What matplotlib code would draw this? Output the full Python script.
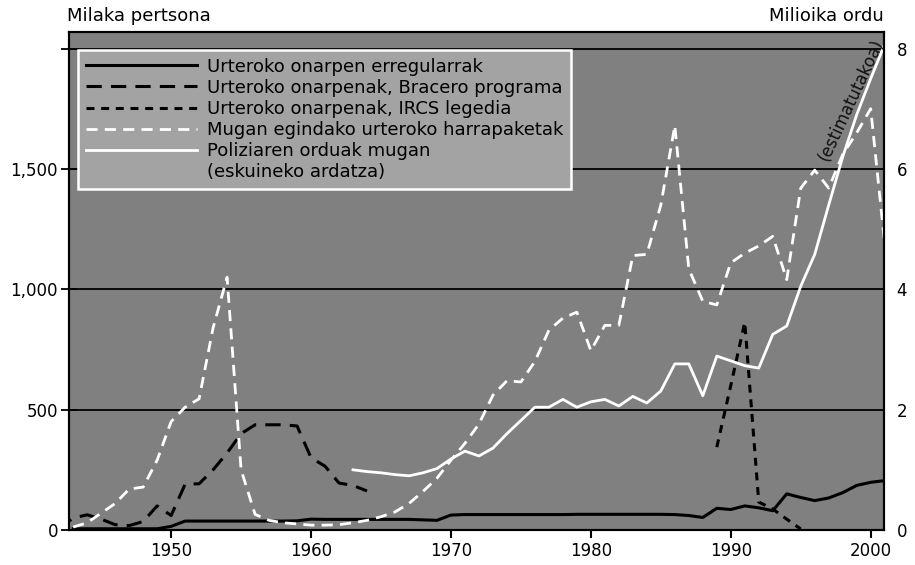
import matplotlib
matplotlib.use("Agg")
import matplotlib.pyplot as plt
from matplotlib.lines import Line2D

plt.rcParams["font.family"] = ["DejaVu Sans"]

# Urteroko onarpen erregularrak (milaka), 1943-2001
regular_years = list(range(1943, 2002))
regular_vals = [5, 5, 5, 5, 5, 5, 5,
                15,
                37, 37, 37, 37, 37, 37, 37, 37,
                38, 45,
                44, 44, 44, 44, 44, 44, 44,
                42, 40,
                62,
                64, 64, 64, 64, 64, 64, 64, 64,
                65, 65, 65, 65, 65, 65, 65,
                64, 60, 52, 90, 85, 100, 92, 80, 150, 135, 122, 133,
                155, 185, 198, 205]

# Bracero programa (milaka), 1942-1964
bracero_years = list(range(1942, 1965))
bracero_vals = [5, 50, 63, 45, 22, 18, 35, 100, 60, 190,
                192, 250, 320, 400, 437, 437, 437, 432, 300, 265,
                195, 185, 162]

# IRCS legedia (milaka)
ircs_years = [1989, 1990, 1991, 1992, 1993, 1994, 1995]
ircs_vals = [344, 600, 863, 116, 87, 45, 4]

# Mugako harrapaketak (milaka), 1943-2001
appr_years = list(range(1943, 2002))
appr_vals = [12, 30, 70, 110, 170, 178, 290, 450, 510, 545,
             840, 1050, 250, 65, 40, 30, 25, 20, 20, 22,
             30, 40, 55, 75, 110, 160, 215, 290, 360, 440,
             560, 620, 615, 700, 830, 880, 905, 745, 850, 850,
             1140, 1145, 1350, 1680, 1085, 950, 935, 1110, 1150, 1180,
             1220, 1040, 1420, 1495, 1420, 1560, 1650, 1750, 1190]

# Poliziaren orduak mugan (milioika), 1963-2001
police_years = list(range(1963, 2002))
police_vals = [1.0, 0.97, 0.95, 0.92, 0.90, 0.95, 1.02, 1.18, 1.31, 1.23,
               1.36, 1.6, 1.82,
               2.04, 2.04, 2.17, 2.04, 2.13, 2.17, 2.06, 2.22, 2.11, 2.31,
               2.76, 2.76, 2.23, 2.89, 2.81, 2.73, 2.69, 3.25, 3.39, 4.05,
               4.58, 5.4, 6.2, 6.9, 7.5, 8.07]

left_ticks = [0, 500, 1000, 1500, 2000]
left_ticklabels = ["0", "500", "1,000", "1,500", ""]
right_ticks = [0, 2, 4, 6, 8]
x_ticks = [1950, 1960, 1970, 1980, 1990, 2000]

fig = plt.figure(figsize=(9.15, 5.65), dpi=100)
ax = fig.add_axes([0.0754, 0.062, 0.8907, 0.881])
ax.set_facecolor("#808080")

ax.plot(regular_years, regular_vals, color="black", lw=2.2,
        solid_joinstyle="round")
ax.plot(bracero_years, bracero_vals, color="black", lw=2.2, dashes=(5, 3))
ax.plot(ircs_years, ircs_vals, color="black", lw=2.2, dashes=(2.6, 2.2))
ax.plot(appr_years, appr_vals, color="white", lw=2.0, dashes=(4, 2.6))

ax.set_xlim(1942.7, 2000.95)
ax.set_ylim(0, 2068)
ax.set_yticks(left_ticks)
ax.set_yticklabels(left_ticklabels)
ax.set_xticks(x_ticks)
ax.grid(axis="y", color="black", lw=1.3)
ax.set_axisbelow(True)
ax.tick_params(axis="y", direction="inout", length=12, width=1.3,
               labelsize=12, pad=2)
ax.tick_params(axis="x", direction="out", length=6, width=1.5,
               labelsize=12, pad=3)
for sp in ax.spines.values():
    sp.set_linewidth(1.5)

ax2 = ax.twinx()
ax2.plot(police_years, police_vals, color="white", lw=2.0)
ax2.set_ylim(0, 2068 / 250)
ax2.set_yticks(right_ticks)
ax2.tick_params(axis="y", length=0, labelsize=12, pad=9)
for sp in ax2.spines.values():
    sp.set_linewidth(1.5)

ax2.text(1998.6, 7.15, "(estimatutakoa)", rotation=65, fontsize=12,
         ha="center", va="center", rotation_mode="anchor", color="#111111")

handles = [
    Line2D([], [], color="black", lw=2.2),
    Line2D([], [], color="black", lw=2.2, dashes=(5, 3)),
    Line2D([], [], color="black", lw=2.2, dashes=(2.6, 2.2)),
    Line2D([], [], color="white", lw=2.0, dashes=(4, 2.6)),
    Line2D([], [], color="white", lw=2.0),
    Line2D([], [], color="none"),
]
labels = ["Urteroko onarpen erregularrak",
          "Urteroko onarpenak, Bracero programa",
          "Urteroko onarpenak, IRCS legedia",
          "Mugan egindako urteroko harrapaketak",
          "Poliziaren orduak mugan",
          "(eskuineko ardatza)"]
leg = ax2.legend(handles, labels, loc="upper left",
                 bbox_to_anchor=(0.011, 0.964), borderaxespad=0,
                 fontsize=13, handlelength=6.2, handletextpad=0.55,
                 labelspacing=0.17, borderpad=0.42, fancybox=False,
                 framealpha=1, facecolor="#a3a3a3", edgecolor="white")
leg.get_frame().set_linewidth(1.8)

fig.text(0.073, 0.955, "Milaka pertsona", fontsize=13, ha="left", va="bottom")
fig.text(0.966, 0.955, "Milioika ordu", fontsize=13, ha="right", va="bottom")

fig.savefig("out.png", dpi=100)
